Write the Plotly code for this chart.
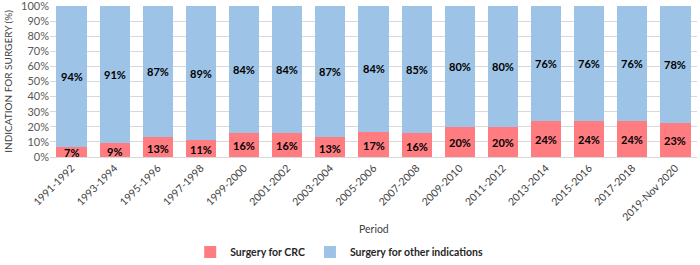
import plotly.graph_objects as go

periods = ["1991-1992", "1993-1994", "1995-1996", "1997-1998", "1999-2000",
           "2001-2002", "2003-2004", "2005-2006", "2007-2008", "2009-2010",
           "2011-2012", "2013-2014", "2015-2016", "2017-2018", "2019-Nov 2020"]
crc = [7, 9, 13, 11, 16, 16, 13, 17, 16, 20, 20, 24, 24, 24, 23]
other = [94, 91, 87, 89, 84, 84, 87, 84, 85, 80, 80, 76, 76, 76, 78]
y_ticks = [0, 10, 20, 30, 40, 50, 60, 70, 80, 90, 100]

RED = "#FF7C80"
BLUE = "#9DC3E6"
FONT = "Lato"

crc_n = [c / (c + o) * 100 for c, o in zip(crc, other)]
oth_n = [o / (c + o) * 100 for c, o in zip(crc, other)]

fig = go.Figure()
fig.add_bar(x=periods, y=crc_n, name="Surgery for CRC", marker_color=RED,
            marker_line_width=0, hoverinfo="skip")
fig.add_bar(x=periods, y=oth_n, name="Surgery for other indications", marker_color=BLUE,
            marker_line_width=0, hoverinfo="skip")

annos = []
for p, c, o, cv, ov in zip(periods, crc_n, oth_n, crc, other):
    annos.append(dict(x=p, y=c / 2, text=f"<b>{cv}%</b>", showarrow=False,
                      font=dict(family=FONT, size=11, color="#000"), yshift=-1))
    annos.append(dict(x=p, y=c + o / 2, text=f"<b>{ov}%</b>", showarrow=False,
                      font=dict(family=FONT, size=11, color="#000")))
annos.append(dict(xref="paper", yref="paper", x=0.5, y=-0.48, text="Period",
                  showarrow=False, font=dict(family=FONT, size=10.5, color="#404040"),
                  yanchor="middle"))
annos.append(dict(xref="paper", yref="paper", x=-0.066, y=0.5, xanchor="center",
                  text="INDICATION FOR SURGERY (%)", textangle=-90, showarrow=False,
                  font=dict(family=FONT, size=10, color="#404040")))

fig.update_layout(
    width=700, height=265,
    barmode="stack", bargap=0.3,
    margin=dict(l=50, r=3, t=6, b=108, autoexpand=False),
    plot_bgcolor="white", paper_bgcolor="white",
    font=dict(family=FONT, color="#595959"),
    annotations=annos,
    showlegend=True,
    legend=dict(orientation="h", x=0.447, xanchor="center",
                yref="container", y=1 - 252 / 265, yanchor="middle",
                font=dict(family=FONT, size=10.5, color="#262626", weight="bold"),
                itemwidth=30, traceorder="normal", tracegroupgap=0),
    xaxis=dict(tickangle=-45, tickfont=dict(size=10.5, color="#404040", family=FONT),
               showline=True, linecolor="#d9d9d9", linewidth=1, ticks="",
               automargin=False),
    yaxis=dict(range=[0, 100.01], tickvals=y_ticks, ticktext=[f"{v}%" for v in y_ticks],
               tickfont=dict(size=11, color="#595959", family=FONT),
               gridcolor="#d9d9d9", gridwidth=1, zeroline=False, ticks="",
               automargin=False, ticklabeloverflow="allow"),
)

fig.write_html("out.html", config={"displayModeBar": False},
               post_script="document.body.style.margin='0';")
